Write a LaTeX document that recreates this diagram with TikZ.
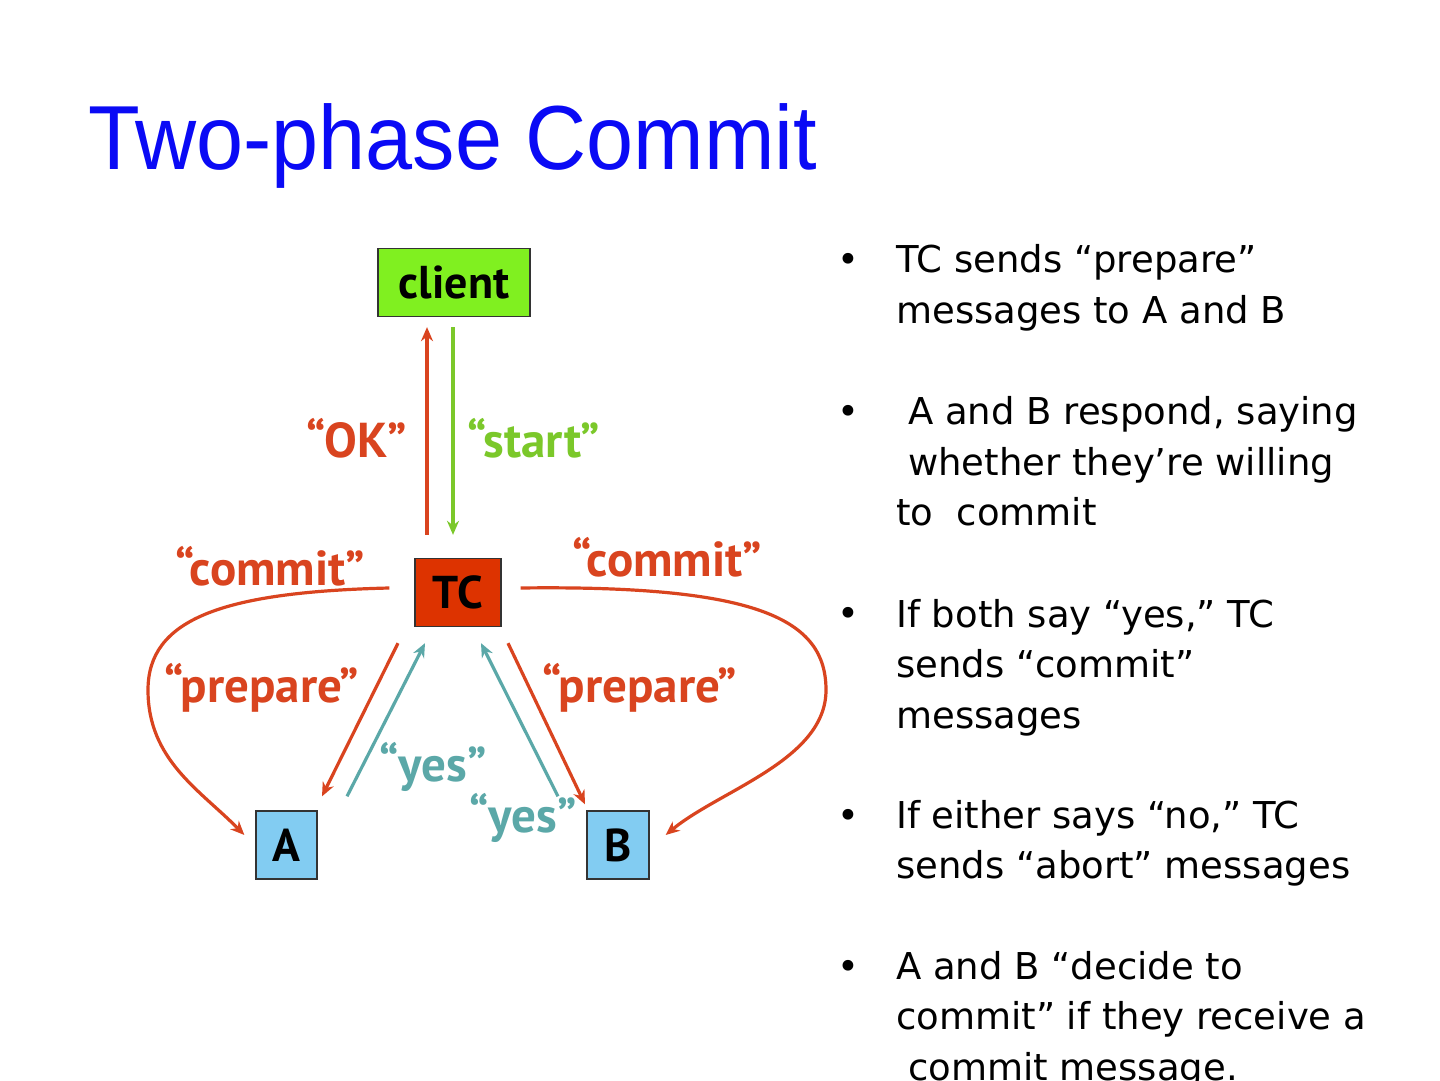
\documentclass[tikz,border=0pt]{standalone}
\usepackage{fontspec}
\setmainfont{DejaVu Sans}
\newfontfamily\titlefont[FakeStretch=0.93]{Liberation Sans}
\newfontfamily\labelfont{PT Sans}
\usetikzlibrary{arrows.meta}

\definecolor{msgred}{HTML}{D9441F}
\definecolor{startgreen}{HTML}{7BC82A}
\definecolor{yesteal}{HTML}{5BA8A8}
\definecolor{clientgreen}{HTML}{80F020}
\definecolor{tcred}{HTML}{DD3300}
\definecolor{partblue}{HTML}{82CCF2}
\definecolor{titleblue}{HTML}{0A0AF5}

\begin{document}
\begin{tikzpicture}[x=1pt,y=1pt,
  box/.style={draw=black!80, line width=1.3pt, minimum height=68pt, inner sep=0pt,
    font=\labelfont\bfseries\fontsize{46}{46}\selectfont},
  msg/.style={font=\labelfont\bfseries\fontsize{49}{49}\selectfont},
  link/.style={line width=3.2pt, -{Stealth[length=14pt,width=12pt]}},
  item/.style={anchor=base west, align=left, inner sep=0pt, font=\fontsize{37}{50.5}\selectfont},
  dot/.style={anchor=base, inner sep=0pt, font=\fontsize{37}{50.5}\selectfont}]
  \useasboundingbox[fill=white] (0,0) rectangle (1440,1080);

  \node[anchor=base west, inner sep=0pt, text=titleblue,
    font=\titlefont\fontsize{91}{91}\selectfont] (title) at (88,910) {Two-phase Commit};

  % the parties
  \node[box, fill=clientgreen, minimum width=152pt] (client) at (454,797.5) {client};
  \node[box, fill=tcred, minimum width=86pt] (tc) at (458,487.5) {TC};
  \node[box, fill=partblue, minimum width=61pt] (a) at (286.5,235) {A};
  \node[box, fill=partblue, minimum width=62pt] (b) at (618,235) {B};

  % client <-> TC
  \draw[link, msgred] ([shift={(-31,23)}]tc.north) -- ([shift={(-27,-10)}]client.south);
  \draw[link, startgreen] ([shift={(-1,-10)}]client.south) -- ([shift={(-5,23)}]tc.north);
  \node[msg, text=msgred] (okLbl) at (357,642) {“OK”};
  \node[msg, text=startgreen] (startLbl) at (534,642) {“start”};

  % prepare / yes
  \draw[link, msgred] ([shift={(-60,-16)}]tc.south) -- ([shift={(35.5,14)}]a.north);
  \draw[link, yesteal] ([shift={(60.5,14)}]a.north) -- ([shift={(-33,-16)}]tc.south);
  \draw[link, yesteal] ([shift={(-60,14)}]b.north) -- ([shift={(23,-16)}]tc.south);
  \draw[link, msgred] ([shift={(50,-16)}]tc.south) -- ([shift={(-33,6)}]b.north);
  \node[msg, text=msgred] (prepLbl) at (262,392) {“prepare”};
  \node[msg, text=msgred] (prepRLbl) at (640,392) {“prepare”};
  \node[msg, text=yesteal] (yesLbl) at (433,313) {“yes”};
  \node[msg, text=yesteal] (yesRLbl) at (523,262) {“yes”};

  % commit
  \draw[link, msgred] ([shift={(-25,4.5)}]tc.west) .. controls (220,488) and (148,460) .. (148,390)
    .. controls (148,320) and (200,290) .. ([shift={(-11,10)}]a.west);
  \draw[link, msgred] ([shift={(19,4.5)}]tc.east) .. controls (760,495) and (826,460) .. (826,390)
    .. controls (826,320) and (720,290) .. ([shift={(16,10)}]b.east);
  \node[msg, text=msgred] (commitLbl) at (270,514) {“commit”};
  \node[msg, text=msgred] (commitRLbl) at (667,523) {“commit”};

  % bullet list (items sit on their last line)
  \node[dot] (d1) at (848,807) {•};
  \node[item] (p1) at (896,756.5) {TC sends “prepare”\\messages to A and B};
  \node[dot] (d2) at (848,655) {•};
  \node[item] (p2) at (896,554) {\hspace*{12pt}A and B respond, saying\\\hspace*{12pt}whether they’re willing\\to~~commit};
  \node[dot] (d3) at (848,453) {•};
  \node[item] (p3) at (896,352) {If both say “yes,” TC\\sends “commit”\\messages};
  \node[dot] (d4) at (848,252) {•};
  \node[item] (p4) at (896,201.5) {If either says “no,” TC\\sends “abort” messages};
  \node[dot] (d5) at (848,101) {•};
  \node[item] (p5) at (896,0) {A and B “decide to\\commit” if they receive a\\\hspace*{12pt}commit message.};
\end{tikzpicture}
\end{document}
